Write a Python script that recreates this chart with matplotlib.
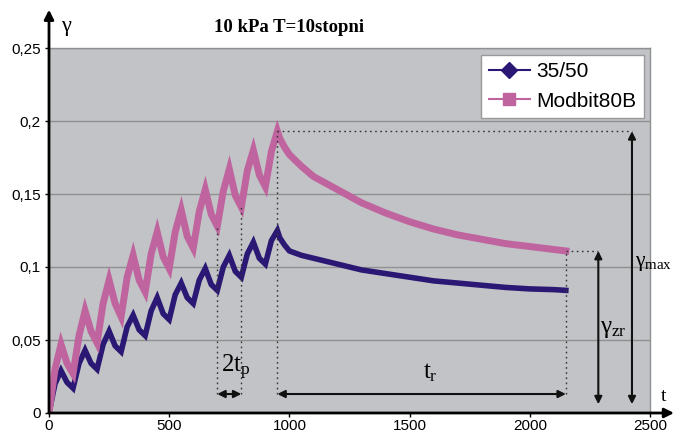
import matplotlib.pyplot as plt
from matplotlib.lines import Line2D

plt.rcParams['font.family'] = 'Liberation Sans'
plt.rcParams['mathtext.fontset'] = 'custom'
plt.rcParams['mathtext.rm'] = 'Liberation Serif'
plt.rcParams['mathtext.it'] = 'Liberation Serif'
plt.rcParams['mathtext.bf'] = 'Liberation Serif:bold'

# time [s]: 10 load/unload cycles, then recovery
t = [0, 25, 50, 75, 100, 125, 150, 175, 200, 225, 250, 275, 300, 325, 350, 375,
     400, 425, 450, 475, 500, 525, 550, 575, 600, 625, 650, 675, 700, 725, 750,
     775, 800, 825, 850, 875, 900, 925, 950,
     960, 980, 1000, 1050, 1100, 1200, 1300, 1400, 1500, 1600, 1700, 1800, 1900,
     2000, 2100, 2150]

# strain gamma, binder 35/50
b3550 = [0.0, 0.020, 0.029, 0.021, 0.017, 0.034, 0.043, 0.034, 0.030, 0.047, 0.056,
         0.046, 0.042, 0.059, 0.067, 0.057, 0.053, 0.070, 0.079, 0.068, 0.064, 0.081,
         0.089, 0.079, 0.075, 0.091, 0.099, 0.088, 0.084, 0.100, 0.108, 0.097, 0.093,
         0.109, 0.117, 0.106, 0.102, 0.118, 0.125,
         0.120, 0.115, 0.111, 0.108, 0.106, 0.102, 0.098, 0.0955, 0.093, 0.0905, 0.089,
         0.0875, 0.086, 0.085, 0.0845, 0.084]

# strain gamma, Modbit80B
modbit = [0.0, 0.030, 0.047, 0.034, 0.027, 0.053, 0.070, 0.056, 0.048, 0.075, 0.091,
          0.075, 0.066, 0.093, 0.108, 0.091, 0.083, 0.109, 0.124, 0.107, 0.099, 0.124,
          0.139, 0.121, 0.113, 0.138, 0.153, 0.136, 0.128, 0.152, 0.167, 0.149, 0.141,
          0.166, 0.180, 0.163, 0.155, 0.179, 0.193,
          0.188, 0.182, 0.177, 0.169, 0.162, 0.153, 0.144, 0.137, 0.131, 0.126, 0.122,
          0.119, 0.116, 0.114, 0.112, 0.111]

xticks = [0, 500, 1000, 1500, 2000, 2500]
yticks = [0, 0.05, 0.1, 0.15, 0.2, 0.25]
ylabels = ['0', '0,05', '0,1', '0,15', '0,2', '0,25']

blue = '#2b1874'
pink = '#c0649f'
bg = '#c1c3c6'

fig = plt.figure(figsize=(6.75, 4.34), dpi=100)
ax = fig.add_axes([49 / 675, 21 / 434, 601 / 675, 365 / 434])
ax.set_facecolor(bg)

ax.plot(t, b3550, color=blue, lw=4.0, solid_joinstyle='miter', zorder=3)
ax.plot(t, modbit, color=pink, lw=5.0, solid_joinstyle='miter', zorder=3)

ax.set_xlim(0, 2500)
ax.set_ylim(0, 0.25)
ax.set_xticks(xticks)
ax.set_xticklabels([str(v) for v in xticks])
ax.set_yticks(yticks)
ax.set_yticklabels(ylabels)
ax.tick_params(labelsize=11, length=3, width=1)
ax.tick_params(axis='x', pad=1.5)
ax.tick_params(axis='y', pad=3)
ax.yaxis.grid(True, color='#8e9092', lw=1)
ax.set_axisbelow(True)

for s in ['top', 'right']:
    ax.spines[s].set_color('#8e9092')
    ax.spines[s].set_linewidth(1)
ax.spines['left'].set_visible(False)
ax.spines['bottom'].set_visible(False)

# axes with arrows
ax.annotate('', xy=(0, 1.105), xytext=(0, 0), xycoords='axes fraction',
            arrowprops=dict(arrowstyle='-|>', lw=2, color='black', mutation_scale=14,
                            shrinkA=0, shrinkB=0), annotation_clip=False)
ax.annotate('', xy=(1.04, 0), xytext=(0, 0), xycoords='axes fraction',
            arrowprops=dict(arrowstyle='-|>', lw=2, color='black', mutation_scale=14,
                            shrinkA=0, shrinkB=0), annotation_clip=False)

# helper lines / dimension arrows
i_peak = t.index(950)
i_v1 = t.index(700)
i_v2 = t.index(800)
y_max = modbit[i_peak]
y_end = modbit[-1]
y_arr = 0.013
dot = dict(color='#333333', lw=1, ls=(0, (1.2, 2.5)), zorder=4)

ax.plot([700, 700], [y_arr, modbit[i_v1]], **dot)
ax.plot([800, 800], [y_arr, modbit[i_v2]], **dot)
ax.plot([950, 950], [y_arr, y_max], **dot)
ax.plot([t[-1], t[-1]], [y_arr, y_end], **dot)
ax.plot([950, 2425], [y_max, y_max], **dot)
ax.plot([t[-1], 2285], [y_end, y_end], **dot)

arr = dict(arrowstyle='<|-|>', lw=1.5, color='#111111', mutation_scale=11,
           shrinkA=0, shrinkB=0)
ax.annotate('', xy=(700, y_arr), xytext=(800, y_arr), arrowprops=arr, zorder=5)
ax.annotate('', xy=(950, y_arr), xytext=(t[-1], y_arr), arrowprops=arr, zorder=5)
ax.annotate('', xy=(2285, 0.006), xytext=(2285, y_end), arrowprops=arr, zorder=5)
ax.annotate('', xy=(2425, 0.006), xytext=(2425, y_max), arrowprops=arr, zorder=5)

ax.text(775, 0.031, r'$2t_p$', fontsize=18, ha='center', va='center')
ax.text(1585, 0.028, r'$t_r$', fontsize=18, ha='center', va='center')
ax.text(2292, 0.058, r'$\gamma_{zr}$', fontsize=18, ha='left', va='center')
ax.text(2438, 0.103, r'$\gamma_{max}$', fontsize=15.5, ha='left', va='center', clip_on=False)
ax.text(2540, 0.011, r'$t$', fontsize=14, ha='left', va='center', clip_on=False)
ax.text(0.03, 1.055, r'$\gamma$', fontsize=16, transform=ax.transAxes,
        ha='center', va='center')

fig.text(289 / 675, 1 - 27 / 434, '10 kPa T=10stopni', fontsize=13.5,
         family='Liberation Serif', weight='bold', ha='center', va='center')

handles = [Line2D([], [], color=blue, lw=1.5, marker='D', markersize=8),
           Line2D([], [], color=pink, lw=1.5, marker='s', markersize=8)]
leg = ax.legend(handles, ['35/50', 'Modbit80B'], loc='upper right',
                bbox_to_anchor=(0.99, 0.981), borderaxespad=0, fontsize=15,
                fancybox=False, framealpha=1, edgecolor='#999999', handlelength=2.0,
                borderpad=0.35, labelspacing=0.5, handletextpad=0.3)
leg.get_frame().set_linewidth(1)

fig.savefig('out.png', dpi=100)
